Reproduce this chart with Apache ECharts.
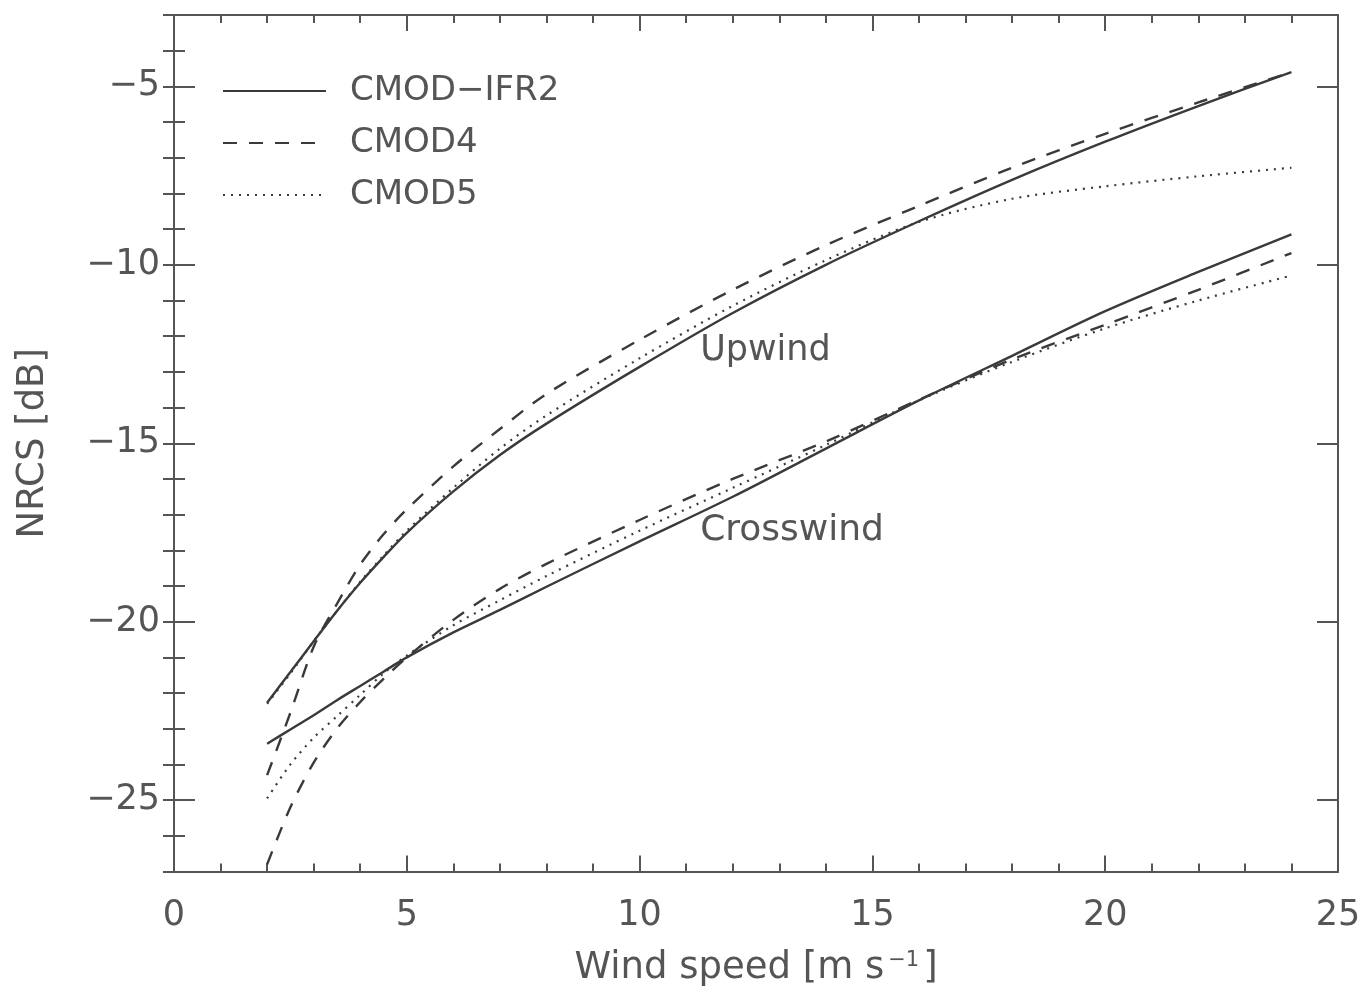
<!DOCTYPE html>
<html>
<head>
<meta charset="utf-8">
<title>NRCS vs wind speed</title>
<script src="https://cdn.jsdelivr.net/npm/echarts@6/dist/echarts.min.js"></script>
<style>
  html, body { margin: 0; padding: 0; background: #ffffff; }
  #chart { width: 1369px; height: 992px; }
</style>
</head>
<body>
<div id="chart"></div>
<script>
// Wind speed samples [m s-1]
const windSpeed = [2, 2.5, 3, 3.5, 4, 4.5, 5, 6, 7, 8, 10, 12, 14, 16, 18, 20, 22, 24];

// Upwind NRCS [dB]
const upIFR2 = [-22.27, -21.41, -20.55, -19.7, -18.91, -18.19, -17.51, -16.35, -15.33, -14.45, -12.86, -11.35, -10.0, -8.78, -7.62, -6.55, -5.55, -4.6];
const upCMOD4 = [-24.3, -22.55, -20.7, -19.5, -18.4, -17.55, -16.85, -15.65, -14.6, -13.62, -12.1, -10.7, -9.45, -8.35, -7.28, -6.33, -5.45, -4.6];
const upCMOD5 = [-22.3, -21.45, -20.55, -19.7, -18.88, -18.15, -17.45, -16.25, -15.15, -14.22, -12.62, -11.15, -9.87, -8.8, -8.15, -7.8, -7.52, -7.28];

// Crosswind NRCS [dB]
const crossIFR2 = [-23.42, -23.02, -22.62, -22.2, -21.8, -21.4, -21.0, -20.3, -19.67, -19.02, -17.75, -16.5, -15.15, -13.8, -12.55, -11.3, -10.2, -9.15];
const crossCMOD4 = [-26.8, -25.2, -23.95, -23.0, -22.25, -21.6, -21.0, -19.95, -19.08, -18.38, -17.15, -16.0, -14.95, -13.78, -12.65, -11.68, -10.7, -9.67];
const crossCMOD5 = [-24.95, -24.0, -23.25, -22.65, -22.05, -21.45, -20.95, -20.1, -19.4, -18.72, -17.45, -16.25, -15.05, -13.8, -12.72, -11.78, -11.0, -10.3];

// Model names, major tick values and curve annotations
const modelNames = ['CMOD\u2212IFR2', 'CMOD4', 'CMOD5'];
const yMajorTicks = [-25, -20, -15, -10, -5];
const curveLabels = ['Upwind', 'Crosswind'];
const curveLabelAt = [[11.3, -12.41], [11.3, -17.45]];

const FONT = 'DejaVu Sans';
const TEXT = '#555555';
const AXIS = '#555555';
const INK = '#3a3a3a';

const pairs = (ys) => windSpeed.map((x, i) => [x, ys[i]]);
const minus = (v) => (v < 0 ? '\u2212' + Math.abs(v) : String(v));

const styles = [
  { type: 'solid', width: 2.4 },
  { type: [14, 12], width: 2.4 },
  { type: [2, 6], width: 2.2 }
];

function curve(name, ys, s) {
  return {
    type: 'line',
    name: name,
    data: pairs(ys),
    showSymbol: false,
    symbol: 'none',
    smooth: 0.3,
    silent: true,
    lineStyle: { color: INK, width: s.width, type: s.type },
    itemStyle: { color: INK },
    z: 3
  };
}

const frameLine = { show: true, onZero: false, lineStyle: { color: AXIS, width: 2 } };
const tickLine = { color: AXIS, width: 2 };

function xFrame(position, withLabels) {
  const ax = {
    type: 'value', position: position, min: 0, max: 25, interval: 5,
    axisLine: frameLine,
    splitLine: { show: false },
    axisTick: { show: true, inside: true, length: 16, lineStyle: tickLine },
    minorTick: { show: true, splitNumber: 5, length: 8, lineStyle: tickLine },
    axisLabel: { show: false }
  };
  if (withLabels) {
    ax.axisLabel = { show: true, margin: 27, fontFamily: FONT, fontSize: 35, color: TEXT, formatter: minus };
    ax.name = '{t|Wind speed [m s}{s|\u22121}{t|]}';
    ax.nameLocation = 'middle';
    ax.nameGap = 76;
    ax.nameTextStyle = {
      rich: {
        t: { fontFamily: FONT, fontSize: 37, color: TEXT, lineHeight: 42 },
        s: { fontFamily: FONT, fontSize: 21, color: TEXT, lineHeight: 42, padding: [0, 4, 16, 4] }
      }
    };
  }
  return ax;
}

function yFrame(position, withLabels) {
  const ax = {
    type: 'value', position: position, min: -27, max: -3, interval: 1,
    axisLine: frameLine,
    splitLine: { show: false },
    axisTick: { show: true, inside: true, length: 21, lineStyle: tickLine, customValues: yMajorTicks },
    axisLabel: { show: false }
  };
  if (withLabels) {
    ax.axisLabel = {
      show: true, margin: 14, fontFamily: FONT, fontSize: 35, color: TEXT,
      customValues: yMajorTicks, formatter: minus
    };
    ax.name = 'NRCS [dB]';
    ax.nameLocation = 'middle';
    ax.nameGap = 122;
    ax.nameTextStyle = { fontFamily: FONT, fontSize: 37, color: TEXT };
  }
  return ax;
}

// 1 dB minor ticks along both vertical edges
function yMinor(position) {
  return {
    type: 'value', position: position, min: -27, max: -3, interval: 1,
    axisLine: { show: false }, splitLine: { show: false },
    axisTick: { show: true, inside: true, length: 11, lineStyle: tickLine },
    axisLabel: { show: false }
  };
}

const option = {
  backgroundColor: '#ffffff',
  animation: false,
  textStyle: { fontFamily: FONT },
  grid: { left: 174, right: 31, top: 15, bottom: 120, containLabel: false },
  legend: {
    data: modelNames,
    orient: 'vertical',
    left: 217,
    top: 68,
    itemWidth: 103,
    itemHeight: 14,
    itemGap: 16,
    selectedMode: false,
    itemStyle: { opacity: 0 },
    textStyle: { fontFamily: FONT, fontSize: 34, color: TEXT, lineHeight: 36, padding: [0, 0, 0, 19] }
  },
  xAxis: [xFrame('bottom', true), xFrame('top', false)],
  yAxis: [yFrame('left', true), yFrame('right', false), yMinor('left'), yMinor('right')],
  series: [
    curve(modelNames[0], upIFR2, styles[0]),
    curve(modelNames[1], upCMOD4, styles[1]),
    curve(modelNames[2], upCMOD5, styles[2]),
    curve(modelNames[0], crossIFR2, styles[0]),
    curve(modelNames[1], crossCMOD4, styles[1]),
    curve(modelNames[2], crossCMOD5, styles[2])
  ]
};

const chart = echarts.init(document.getElementById('chart'), null, { renderer: 'canvas' });
chart.setOption(option);

// Place the curve annotations in data coordinates
chart.setOption({
  graphic: curveLabels.map((txt, i) => {
    const p = chart.convertToPixel({ xAxisIndex: 0, yAxisIndex: 0 }, curveLabelAt[i]);
    return {
      type: 'text',
      x: p[0],
      y: p[1],
      silent: true,
      z: 10,
      style: {
        text: txt,
        fontFamily: FONT,
        fontSize: i === 0 ? 35 : 36,
        fill: TEXT,
        align: 'left',
        verticalAlign: 'middle'
      }
    };
  })
});
</script>
</body>
</html>
